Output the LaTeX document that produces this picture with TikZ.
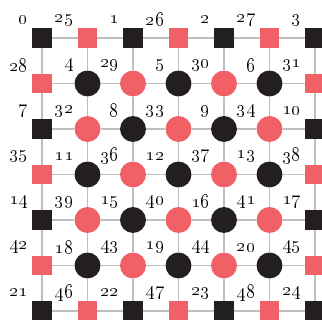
\documentclass[tikz,border=0pt]{standalone}
\usepackage{tikz}
\definecolor{nodered}{HTML}{F06064}
\definecolor{nodeblack}{HTML}{231F20}
\definecolor{gridgray}{HTML}{BEBEBE}

\begin{document}
\begin{tikzpicture}[
  sq/.style={rectangle,minimum size=0.42cm,inner sep=0pt},
  dot/.style={circle,minimum size=0.57cm,inner sep=0pt},
  blkfill/.style={fill=nodeblack},
  redfill/.style={fill=nodered},
  num/.style={anchor=east,inner sep=0pt,font=\large},
  link/.style={draw=gridgray,line width=0.7pt}]
  \useasboundingbox (-0.923,-0.198) rectangle (6.154,6.835);
  % sites: black ones numbered 0..24, red ones 25..48
  \foreach \r in {0,...,6}{
    \foreach \c in {0,...,6}{
      \pgfmathtruncatemacro\k{7*\r+\c}
      \pgfmathtruncatemacro\isred{mod(\k,2)}
      \pgfmathtruncatemacro\onrim{(\r==0)||(\r==6)||(\c==0)||(\c==6)}
      \pgfmathtruncatemacro\lab{\isred==0 ? \k/2 : 25+(\k-1)/2}
      \ifnum\onrim=1 \def\shp{sq}\else\def\shp{dot}\fi
      \ifnum\isred=1 \def\col{redfill}\else\def\col{blkfill}\fi
      \node[\shp,\col] (n-\r-\c) at (\c,6-\r) {};
      \node[num] (l-\r-\c) at (\c-0.30,6.40-\r) {\oldstylenums{\lab}};
    }
  }
  % grid lines
  \foreach \r in {0,...,6}{
    \foreach \c [evaluate=\c as \d using int(\c+1)] in {0,...,5}{
      \draw[link] (n-\r-\c) -- (n-\r-\d);
      \draw[link] (n-\c-\r) -- (n-\d-\r);
    }
  }
\end{tikzpicture}
\end{document}
